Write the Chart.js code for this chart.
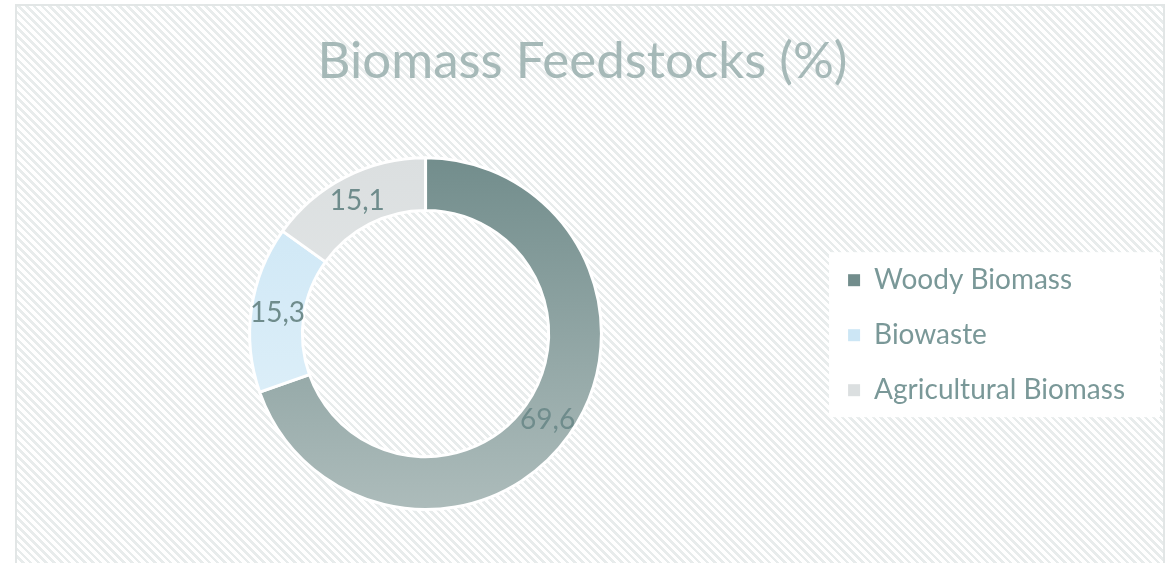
<!DOCTYPE html>
<html>
<head>
<meta charset="utf-8">
<title>Biomass Feedstocks (%)</title>
<script src="https://cdn.jsdelivr.net/npm/chart.js@4/dist/chart.umd.min.js"></script>
<style>
  html, body { margin: 0; padding: 0; background: #fff; }
  body { width: 1170px; height: 563px; overflow: hidden; position: relative; }
  .frame {
    position: absolute; left: 15px; top: 4px; width: 1146px; height: 580px;
    border: 2px solid #e2e6e6;
    background: repeating-linear-gradient(45deg, #ffffff 0 3px, #e8ecec 3px 5.5px);
  }
  #chart { position: absolute; left: 17px; top: 6px; }
</style>
</head>
<body>
<div class="frame"></div>
<canvas id="chart" width="1144" height="557"></canvas>
<script>
/* ---- data ---- */
const categories = ['Woody Biomass', 'Biowaste', 'Agricultural Biomass'];
const shares = [69.6, 15.3, 15.1];

/* ---- styles: top/bottom colour of each slice gradient ---- */
const sliceTop = ['#728d8c', '#cce6f5', '#dbdfe0'];
const sliceBottom = ['#adbcbb', '#e3f2fa', '#e9ebeb'];
const fontFamily = 'Lato, "Open Sans", sans-serif';
const legendColor = '#7a9898';

function sliceFill(ctx) {
  const area = ctx.chart.chartArea;
  const i = ctx.dataIndex;
  if (!area) return sliceTop[i];
  const g = ctx.chart.ctx.createLinearGradient(0, area.top, 0, area.bottom);
  g.addColorStop(0, sliceTop[i]);
  g.addColorStop(1, sliceBottom[i]);
  return g;
}

// white panel behind the legend, drawn before everything else
const legendPanel = {
  id: 'legendPanel',
  beforeDraw(chart) {
    const lg = chart.legend;
    if (!lg || !lg.legendHitBoxes.length) return;
    const boxes = lg.legendHitBoxes;
    const last = boxes[boxes.length - 1];
    const left = boxes[0].left - 19;
    const top = boxes[0].top - 14;
    const bottom = last.top + last.height + 13;
    const c = chart.ctx;
    c.save();
    c.fillStyle = '#ffffff';
    c.fillRect(left, top, chart.width - 1 - left, bottom - top);
    c.restore();
  }
};

// value labels at the middle of each ring segment
const sliceLabels = {
  id: 'sliceLabels',
  afterDatasetsDraw(chart) {
    const meta = chart.getDatasetMeta(0);
    const c = chart.ctx;
    c.save();
    c.font = `28px ${fontFamily}`;
    c.fillStyle = '#6f8c8c';
    c.textAlign = 'center';
    c.textBaseline = 'middle';
    meta.data.forEach((arc, i) => {
      const p = arc.tooltipPosition();
      c.fillText(String(shares[i]).replace('.', ','), p.x, p.y);
    });
    c.restore();
  }
};

new Chart(document.getElementById('chart'), {
  type: 'doughnut',
  data: {
    labels: categories,
    datasets: [{
      data: shares,
      backgroundColor: sliceFill,
      borderColor: '#ffffff',
      borderWidth: 3,
      hoverOffset: 0,
    }],
  },
  options: {
    responsive: false,
    animation: false,
    cutout: '70%',
    layout: { padding: { left: 13, right: 26, top: 0, bottom: 52 } },
    plugins: {
      title: {
        display: true,
        text: 'Biomass Feedstocks (%)',
        color: '#a6b9b8',
        font: { family: fontFamily, size: 51, weight: 'normal' },
        padding: { top: 25, bottom: 64 },
      },
      legend: {
        position: 'right',
        // empty legend title only pushes the items down to the ring's middle
        title: { display: true, text: '', padding: { top: 0, bottom: 139 } },
        labels: {
          boxWidth: 12,
          boxHeight: 12,
          padding: 27,
          color: legendColor,
          font: { family: fontFamily, size: 28 },
          generateLabels(chart) {
            return categories.map((name, i) => ({
              text: name,
              fillStyle: sliceTop[i],
              strokeStyle: sliceTop[i],
              fontColor: legendColor,
              lineWidth: 0,
              index: i,
            }));
          },
        },
      },
      tooltip: { enabled: false },
    },
  },
  plugins: [legendPanel, sliceLabels],
});
</script>
</body>
</html>
